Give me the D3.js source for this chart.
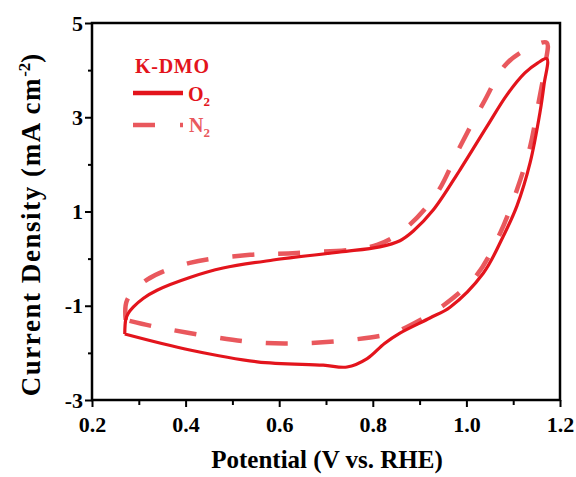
<!DOCTYPE html>
<html>
<head>
<meta charset="utf-8">
<script src="https://cdn.jsdelivr.net/npm/d3@7.9.0/dist/d3.min.js"></script>
<style>
  body { margin: 0; background: #fff; }
  text { font-family: "Liberation Serif", "Times New Roman", serif; font-weight: bold; }
</style>
</head>
<body>
<svg id="chart" width="576" height="477"></svg>
<script>
// O2 loop: anodic (upper) branch then cathodic (lower) branch back
const o2Potential = [0.270, 0.272, 0.277, 0.288, 0.310, 0.339, 0.409, 0.480, 0.587, 0.730, 0.815, 0.858, 0.886, 0.929, 0.986, 1.043, 1.087, 1.125, 1.152, 1.172,
  1.166, 1.157, 1.136, 1.108, 1.078, 1.036, 0.965, 0.922, 0.858, 0.825, 0.788, 0.745, 0.694, 0.553, 0.409, 0.270];
const o2Current = [-1.60, -1.30, -1.17, -1.03, -0.84, -0.67, -0.40, -0.20, -0.03, 0.14, 0.25, 0.38, 0.58, 1.03, 1.88, 2.79, 3.48, 3.94, 4.15, 4.24,
  3.70, 3.09, 2.03, 1.12, 0.46, -0.31, -1.03, -1.26, -1.58, -1.80, -2.12, -2.30, -2.26, -2.19, -1.94, -1.60];

// N2 loop
const n2Potential = [0.272, 0.275, 0.317, 0.409, 0.538, 0.638, 0.809, 0.873, 0.937, 0.986, 1.036, 1.087, 1.151, 1.172,
  1.170, 1.154, 1.136, 1.108, 1.072, 1.022, 0.950, 0.873, 0.843, 0.766, 0.666, 0.566, 0.459, 0.328, 0.272];
const n2Current = [-1.30, -0.88, -0.45, -0.09, 0.08, 0.12, 0.29, 0.67, 1.39, 2.37, 3.30, 4.15, 4.55, 4.58,
  4.20, 3.30, 2.37, 1.46, 0.54, -0.35, -1.00, -1.45, -1.58, -1.71, -1.79, -1.79, -1.66, -1.43, -1.30];

const xTicks = [0.2, 0.4, 0.6, 0.8, 1.0, 1.2];
const yTicks = [-3, -1, 1, 3, 5];

const svg = d3.select("#chart");
const margin = { left: 92, right: 16, top: 23, bottom: 77 };
const width = 576 - margin.left - margin.right;
const height = 477 - margin.top - margin.bottom;

const x = d3.scaleLinear().domain([0.2, 1.2]).range([margin.left, margin.left + width]);
const y = d3.scaleLinear().domain([-3, 5]).range([margin.top + height, margin.top]);

const toPoints = (xs, ys) => xs.map((v, i) => [x(v), y(ys[i])]);
const line = d3.line().curve(d3.curveCatmullRom.alpha(0.5));

const solidColor = "#e3141c";
const dashColor = "#e9585d";

// curves
svg.append("path")
  .attr("d", line(toPoints(n2Potential, n2Current)))
  .attr("fill", "none")
  .attr("stroke", dashColor)
  .attr("stroke-width", 4.5)
  .attr("stroke-dasharray", "22 24");

svg.append("path")
  .attr("d", line(toPoints(o2Potential, o2Current)))
  .attr("fill", "none")
  .attr("stroke", solidColor)
  .attr("stroke-width", 3.2);

// frame
svg.append("rect")
  .attr("x", margin.left).attr("y", margin.top)
  .attr("width", width).attr("height", height)
  .attr("fill", "none").attr("stroke", "#000").attr("stroke-width", 2.5);

// axes
const isMajorX = d => xTicks.some(t => Math.abs(t - d) < 1e-6);
const xAxis = d3.axisBottom(x).tickValues(d3.range(0.2, 1.21, 0.1)).tickSize(6)
  .tickFormat(d => isMajorX(d) ? d3.format(".1f")(d) : "");
const gx = svg.append("g").attr("transform", `translate(0,${margin.top + height})`).call(xAxis);
gx.select(".domain").remove();
gx.selectAll(".tick line").attr("stroke-width", 2)
  .attr("y2", d => isMajorX(d) ? 7 : 5);
gx.selectAll(".tick text").attr("font-size", 22).attr("y", 32).attr("dy", 0).attr("fill", "#000");

const yAxis = d3.axisLeft(y).tickValues(d3.range(-3, 5.01, 1)).tickSize(6)
  .tickFormat(d => yTicks.includes(d) ? d : "");
const gy = svg.append("g").attr("transform", `translate(${margin.left},0)`).call(yAxis);
gy.select(".domain").remove();
gy.selectAll(".tick line").attr("stroke-width", 2)
  .attr("x2", d => yTicks.includes(d) ? -7 : -4);
gy.selectAll(".tick text").attr("font-size", 22).attr("x", -9).attr("fill", "#000");

// axis titles
svg.append("text")
  .attr("x", 327).attr("y", 468)
  .attr("text-anchor", "middle").attr("font-size", 25)
  .text("Potential (V vs. RHE)");

const yl = svg.append("text")
  .attr("transform", "translate(40,225) rotate(-90)")
  .attr("text-anchor", "middle").attr("font-size", 27);
yl.append("tspan").attr("textLength", 318).text("Current Density (mA cm");
yl.append("tspan").attr("dy", -10).attr("font-size", 17).text("-2");
yl.append("tspan").attr("dy", 10).text(")");

// legend
const lg = svg.append("g");
lg.append("text").attr("x", 135).attr("y", 73).attr("font-size", 20)
  .attr("textLength", 74).attr("fill", solidColor).text("K-DMO");
lg.append("line").attr("x1", 133).attr("x2", 183).attr("y1", 93).attr("y2", 93)
  .attr("stroke", solidColor).attr("stroke-width", 4.5);
const t1 = lg.append("text").attr("x", 188).attr("y", 101).attr("font-size", 20).attr("fill", solidColor);
t1.append("tspan").text("O");
t1.append("tspan").attr("dy", 5).attr("font-size", 13).text("2");
lg.append("line").attr("x1", 133).attr("x2", 183).attr("y1", 125).attr("y2", 125)
  .attr("stroke", dashColor).attr("stroke-width", 4.5).attr("stroke-dasharray", "22 25");
const t2 = lg.append("text").attr("x", 189).attr("y", 132).attr("font-size", 20).attr("fill", dashColor);
t2.append("tspan").text("N");
t2.append("tspan").attr("dy", 5).attr("font-size", 13).text("2");
</script>
</body>
</html>
